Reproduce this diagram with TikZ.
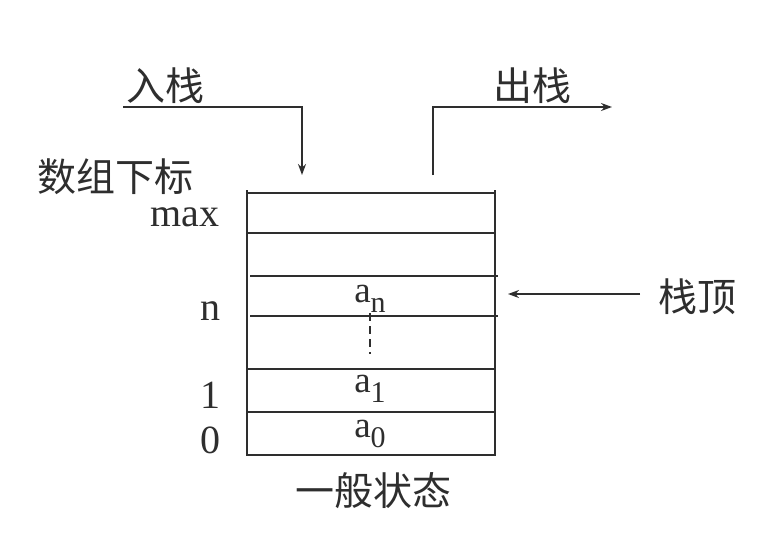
\documentclass[tikz,border=0pt]{standalone}
\usepackage{fontspec}
\setmainfont{Liberation Serif}
\newfontfamily\cjk{Noto Sans CJK SC}
\usetikzlibrary{arrows.meta}
\definecolor{ink}{HTML}{2E2E2E}
\tikzset{
  ln/.style={line width=1.8pt, draw=ink},
  arr/.style={ln, -{Stealth[length=11pt,width=8pt]}},
  cjkt/.style={font=\cjk\fontsize{39}{42}\selectfont, text=ink, inner sep=0pt},
  lat/.style={font=\fontsize{40}{44}\selectfont, text=ink, inner sep=0pt, anchor=base},
  cell/.style={font=\fontsize{37}{40}\selectfont, text=ink, inner sep=0pt, anchor=base}
}
\newcommand{\sbx}[1]{\raisebox{-0.28em}{\fontsize{30}{32}\selectfont #1}}
\begin{document}
\begin{tikzpicture}[x=1pt,y=-1pt]
\useasboundingbox[fill=white] (0,0) rectangle (767,551);
% stack box
\draw[ln] (247,190) -- (247,455) -- (495,455) -- (495,190);
\draw[ln] (246,193) -- (495,193);
\draw[ln] (247,233) -- (495,233);
\draw[ln] (250,276) -- (498,276);
\draw[ln] (250,316) -- (498,316);
\draw[ln] (247,369) -- (495,369);
\draw[ln] (247,412) -- (495,412);
\draw[ln, line width=2.2pt, dash pattern=on 8pt off 5pt] (370,313) -- (370,354);
% cell contents
\node[cell] (an) at (370,302) {a\sbx{n}};
\node[cell] (a1) at (370,392) {a\sbx{1}};
\node[cell] (a0) at (370,437) {a\sbx{0}};
% index labels
\node[cjkt] (idx) at (115,177) {数组下标};
\node[lat] (max) at (185,226) {max};
\node[lat] (n) at (210,320) {n};
\node[lat] (one) at (210,408) {1};
\node[lat] (zero) at (210,453) {0};
% push / pop
\node[cjkt] (push) at (165,86) {入栈};
\node[cjkt] (pop) at (532,86) {出栈};
\coordinate (p0) at (123,107);
\coordinate (p1) at (302,107);
\coordinate (p2) at (302,175);
\draw[arr] (p0) -- (p1) -- (p2);
\coordinate (q0) at (433,175);
\coordinate (q1) at (433,107);
\coordinate (q2) at (612,107);
\draw[arr] (q0) -- (q1) -- (q2);
% top pointer
\node[cjkt] (top) at (697,297) {栈顶};
\coordinate (t0) at (640,294);
\coordinate (t1) at (508,294);
\draw[arr] (t0) -- (t1);
% caption
\node[cjkt] (cap) at (373,491) {一般状态};
\end{tikzpicture}
\end{document}
